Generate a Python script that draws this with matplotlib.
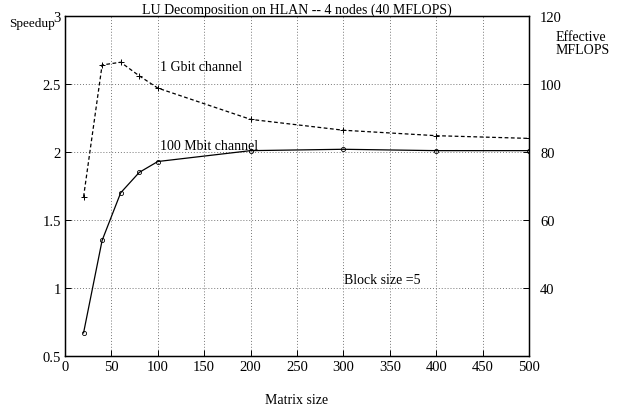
import matplotlib
matplotlib.use("Agg")
import matplotlib.pyplot as plt

plt.rcParams['font.family'] = ['Liberation Serif', 'DejaVu Serif']

matrix_size = [20, 40, 60, 80, 100, 200, 300, 400, 500]
speedup_1gbit = [1.67, 2.64, 2.66, 2.56, 2.47, 2.24, 2.16, 2.12, 2.10]
speedup_100mbit = [0.67, 1.35, 1.70, 1.85, 1.93, 2.01, 2.02, 2.01, 2.01]
x_ticks = [0, 50, 100, 150, 200, 250, 300, 350, 400, 450, 500]
y_ticks = [0.5, 1, 1.5, 2, 2.5, 3]
y2_ticks = [40, 60, 80, 100, 120]

fig = plt.figure(figsize=(6.31, 4.06), dpi=100)
ax = fig.add_axes([65/631, 49/406, 464/631, 340/406])

ax.plot(matrix_size, speedup_1gbit, color='black', linestyle=(0, (3, 2)), linewidth=0.9,
        marker='+', markersize=4, markeredgewidth=0.7)
ax.plot(matrix_size, speedup_100mbit, color='black', linestyle='-', linewidth=0.9,
        marker='o', markersize=3, markerfacecolor='none', markeredgewidth=0.6)

ax.set_xlim(0, 500)
ax.set_ylim(0.5, 3)
ax.set_xticks(x_ticks)
ax.set_yticks(y_ticks)
ax.set_yticklabels(['0.5', '1', '1.5', '2', '2.5', '3'])
ax.grid(True, linestyle=(0, (1, 2)), color='#777777', linewidth=0.7)
ax.tick_params(direction='in', labelsize=10.5, length=4, width=0.7, pad=3)
for s in ax.spines.values():
    s.set_linewidth(1.0)

ax2 = ax.twinx()
ax2.set_ylim(20, 120)
ax2.set_yticks(y2_ticks)
ax2.tick_params(direction='in', labelsize=10.5, length=4, width=0.7, pad=8)

ax.set_title('LU Decomposition on HLAN -- 4 nodes (40 MFLOPS)', fontsize=10, pad=1)
ax.set_xlabel('Matrix size', fontsize=10, labelpad=14)
fig.text(9/631, 1 - 24/406, 'Speedup', fontsize=9.5, ha='left', va='center')
fig.text(556/631, 1 - 44/406, 'Effective\nMFLOPS', fontsize=10, ha='left', va='center', linespacing=1.0)

ax.text(102, 2.63, '1 Gbit channel', fontsize=10, ha='left', va='center')
ax.text(102, 2.05, '100 Mbit channel', fontsize=10, ha='left', va='center')
ax.text(301, 1.06, 'Block size =5', fontsize=10, ha='left', va='center')

fig.savefig('out.png', dpi=100)
